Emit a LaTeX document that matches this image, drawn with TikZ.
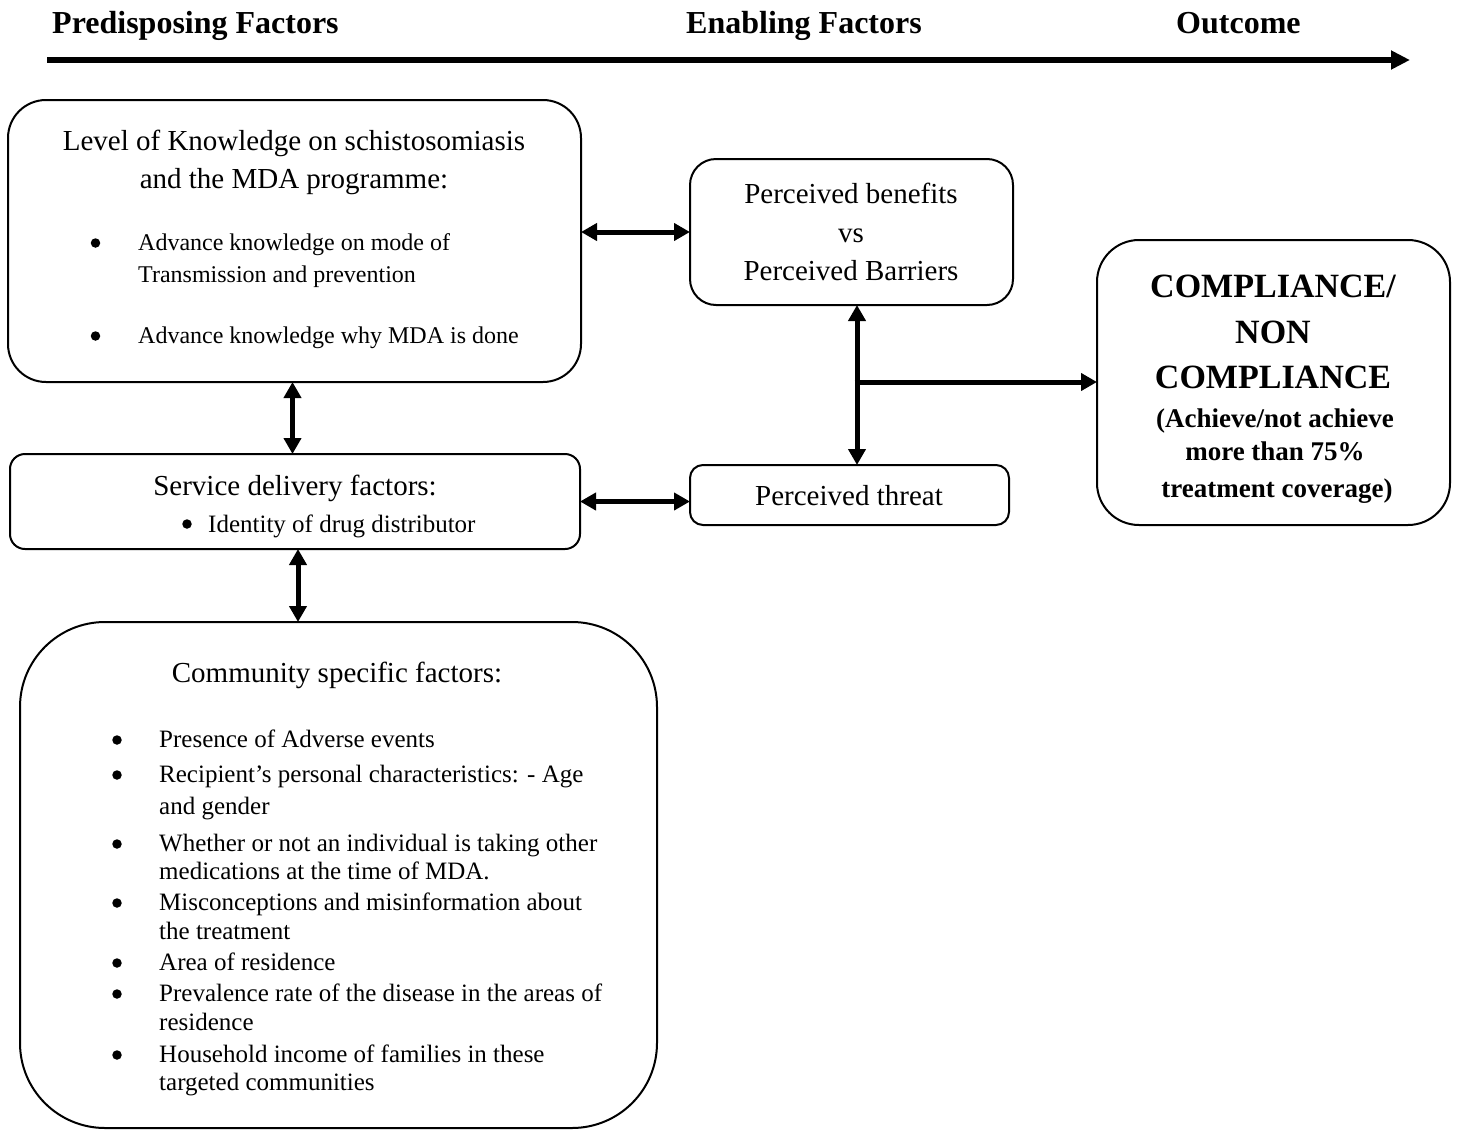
\documentclass[tikz,border=0pt]{standalone}
\usepackage{fontspec}
\setmainfont{Liberation Serif}
\usetikzlibrary{arrows.meta}
\newcommand\fHead{\fontsize{32}{38}\selectfont\bfseries}
\newcommand\fTitle{\fontsize{29}{35}\selectfont}
\newcommand\fBulA{\fontsize{24}{29}\selectfont}
\newcommand\fBulB{\fontsize{25}{30}\selectfont}
\newcommand\fBig{\fontsize{34}{40}\selectfont\bfseries}
\newcommand\fSmall{\fontsize{27}{32}\selectfont\bfseries}
\tikzset{
  box/.style={draw, line width=2pt, rectangle, inner sep=0pt, outer sep=0pt},
  conn/.style={line width=5pt, {Triangle[length=16pt,width=17pt]}-{Triangle[length=16pt,width=17pt]}},
  oneway/.style={line width=5pt, -{Triangle[length=16pt,width=17pt]}},
  lw/.style={inner sep=0pt, anchor=base west},
  lc/.style={inner sep=0pt, anchor=base},
  dot/.style={circle, fill, inner sep=0pt, minimum size=9.5pt},
}
\begin{document}
\begin{tikzpicture}[x=1pt,y=-1pt]
\useasboundingbox (0,0) rectangle (1457,1130);
% header
\node[lw] (hpre) at (52,33) {\fHead Predisposing Factors};
\node[lw] (hena) at (686,33) {\fHead Enabling Factors};
\node[lw] (hout) at (1176,33) {\fHead Outcome};
\coordinate (axs) at (47,60);
\coordinate (axe) at (1410,60);
\draw[line width=6.5pt, -{Triangle[length=19pt,width=18pt]}] (axs) -- (axe);

% boxes
\node[box, rounded corners=38pt, minimum width=573pt, minimum height=282pt] (know) at (294.5,241) {};
\node[box, rounded corners=26pt, minimum width=323pt, minimum height=146pt] (perc) at (851.5,232) {};
\node[box, rounded corners=13pt, minimum width=319pt, minimum height=60pt] (threat) at (849.5,495) {};
\node[box, rounded corners=42pt, minimum width=353pt, minimum height=285pt] (comp) at (1273.5,382.5) {};
\node[box, rounded corners=15pt, minimum width=570pt, minimum height=95pt] (svc) at (295,501.5) {};
\node[box, rounded corners=85pt, minimum width=637pt, minimum height=506pt] (comm) at (338.5,875) {};

% box 1 text
\node[lc] (k1) at (294,150) {\fTitle Level of Knowledge on schistosomiasis};
\node[lc] (k2) at (294,188) {\fTitle and the MDA programme:};
\node[dot] (kb1) at (95.5,243) {};
\node[lw] (k3) at (138,250) {\fBulA Advance knowledge on mode of};
\node[lw] (k4) at (138,282) {\fBulA Transmission and prevention};
\node[dot] (kb2) at (95.5,336) {};
\node[lw] (k5) at (138,343) {\fBulA Advance knowledge why MDA is done};

% box 2 text
\node[lc] (p1) at (851,203) {\fTitle Perceived benefits};
\node[lc] (p2) at (851,242) {\fTitle vs};
\node[lc] (p3) at (851,280) {\fTitle Perceived Barriers};

% box 3 text
\node[lc] (t1) at (849,505) {\fTitle Perceived threat};

% box 4 text
\node[lc] (c1) at (1273,297) {\fBig COMPLIANCE/};
\node[lc] (c2) at (1273,343) {\fBig NON};
\node[lc] (c3) at (1273,388) {\fBig COMPLIANCE};
\node[lc] (c4) at (1275,427) {\fSmall (Achieve/not achieve};
\node[lc] (c5) at (1275,460) {\fSmall more than 75\%};
\node[lc] (c6) at (1277,497) {\fSmall treatment coverage)};

% box 5 text
\node[lc] (s1) at (295,495) {\fTitle Service delivery factors:};
\node[dot] (sb1) at (187,524) {};
\node[lw] (s2) at (208,532) {\fBulB Identity of drug distributor};

% box 6 text
\node[lc] (m0) at (337,682) {\fTitle Community specific factors:};
\node[dot] (mb1) at (117,740) {};
\node[lw] (m1) at (159,747) {\fBulB Presence of Adverse events};
\node[dot] (mb2) at (117,775) {};
\node[lw] (m2) at (159,782) {\fBulB Recipient’s personal characteristics: - Age};
\node[lw] (m3) at (159,814) {\fBulB and gender};
\node[dot] (mb3) at (117,844) {};
\node[lw] (m4) at (159,851) {\fBulB Whether or not an individual is taking other};
\node[lw] (m5) at (159,879) {\fBulB medications at the time of MDA.};
\node[dot] (mb4) at (117,903) {};
\node[lw] (m6) at (159,910) {\fBulB Misconceptions and misinformation about};
\node[lw] (m7) at (159,939) {\fBulB the treatment};
\node[dot] (mb5) at (117,963) {};
\node[lw] (m8) at (159,970) {\fBulB Area of residence};
\node[dot] (mb6) at (117,994) {};
\node[lw] (m9) at (159,1001) {\fBulB Prevalence rate of the disease in the areas of};
\node[lw] (m10) at (159,1030) {\fBulB residence};
\node[dot] (mb7) at (117,1055) {};
\node[lw] (m11) at (159,1062) {\fBulB Household income of families in these};
\node[lw] (m12) at (159,1090) {\fBulB targeted communities};

% connectors
\draw[conn] (know.east |- perc.west) -- (perc.west);
\draw[conn] (svc.east) -- (svc.east -| threat.west);
\draw[conn] ([xshift=-2pt]know.south) -- ([xshift=-2pt]know.south |- svc.north);
\draw[conn] ([xshift=3pt]svc.south) -- ([xshift=3pt]svc.south |- comm.north);
\coordinate (pv) at ([xshift=5.5pt]perc.south);
\draw[conn] (pv) -- (pv |- threat.north);
\coordinate (br) at (857,382);
\draw[oneway] ([xshift=-2.5pt]br) -- (br -| comp.west);
\end{tikzpicture}
\end{document}
